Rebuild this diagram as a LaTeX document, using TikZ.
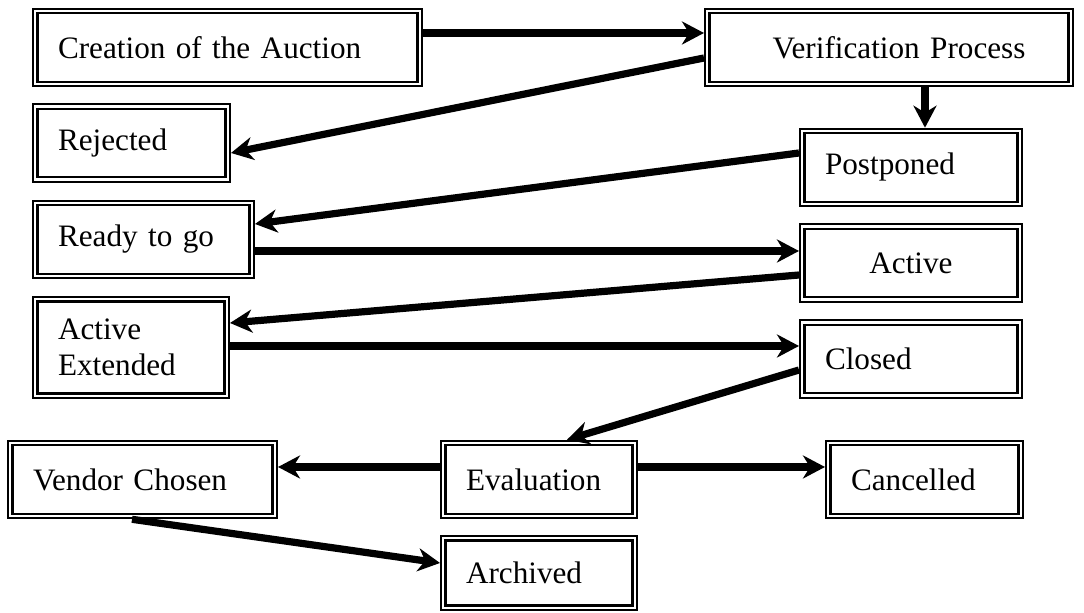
\documentclass[tikz,border=0pt]{standalone}
\usepackage{fontspec}
\setmainfont{Liberation Serif}
\usetikzlibrary{arrows.meta}

\begin{document}
\begin{tikzpicture}[
    x=0.5pt, y=-0.5pt,
    state/.style={rectangle, draw=black, line width=1.1pt, double=white, double distance=1.1pt, outer sep=1.65pt, inner xsep=11.35pt, inner ysep=0pt, minimum height=36.5pt, align=left, font=\fontsize{15.6pt}{18pt}\selectfont},
    flow/.style={-{Stealth[length=11pt, width=11.5pt, inset=3.5pt]}, line width=3.6pt, draw=black}
]
    \useasboundingbox (0,0) rectangle (1084,613);

    % Nodes
    \node[state, text width=169.5pt] (creation) at (227.5, 47.5) {Creation of the Auction};
    \node[state, text width=159pt, align=center] (verif) at (889, 47.5) {\hspace*{10pt}Verification Process};
    \node[state, text width=73.5pt] (rejected) at (131.5, 143) {Rejected};
    \node[state, text width=86pt] (postponed) at (911, 167.5) {Postponed};
    \node[state, text width=85.5pt] (ready) at (143.5, 239.5) {Ready to go};
    \node[state, text width=86pt, align=center] (active) at (911, 263) {Active};
    \node[state, text width=73pt, minimum height=48.2pt] (actext) at (131, 347.5) {Active\\Extended};
    \node[state, text width=86pt] (closed) at (911, 359) {Closed};
    \node[state, text width=109.5pt] (vendor) at (142.5, 479.5) {Vendor Chosen};
    \node[state, text width=73pt] (eval) at (539, 479.5) {Evaluation};
    \node[state, text width=73.5pt] (cancelled) at (924.5, 479.5) {Cancelled};
    \node[state, text width=73pt, minimum height=34.7pt] (archived) at (539, 573) {Archived};

    % Arrows
    \draw[flow] ([yshift=7.25pt]creation.east) -- ([yshift=7.25pt]verif.west);
    \draw[flow] ([yshift=-5.25pt]verif.west) -- ([yshift=-5pt]rejected.east);
    \draw[flow] ([xshift=18pt]verif.south) -- ([xshift=7pt]postponed.north);
    \draw[flow] ([yshift=7.25pt]postponed.west) -- ([yshift=7.75pt]ready.east);
    \draw[flow] ([yshift=-5.75pt]ready.east) -- ([yshift=6pt]active.west);
    \draw[flow] ([yshift=-6pt]active.west) -- ([yshift=12.25pt]actext.east);
    \draw[flow] ([yshift=0.75pt]actext.east) -- ([yshift=6.5pt]closed.west);
    \draw[flow] ([yshift=-5.5pt]closed.west) -- ([xshift=14pt]eval.north);
    \draw[flow] ([yshift=6.25pt]eval.west) -- ([yshift=6.25pt]vendor.east);
    \draw[flow] ([yshift=6.25pt]eval.east) -- ([yshift=6.25pt]cancelled.west);
    \draw[flow] ([xshift=-5.25pt]vendor.south) -- ([yshift=5pt]archived.west);
\end{tikzpicture}
\end{document}
